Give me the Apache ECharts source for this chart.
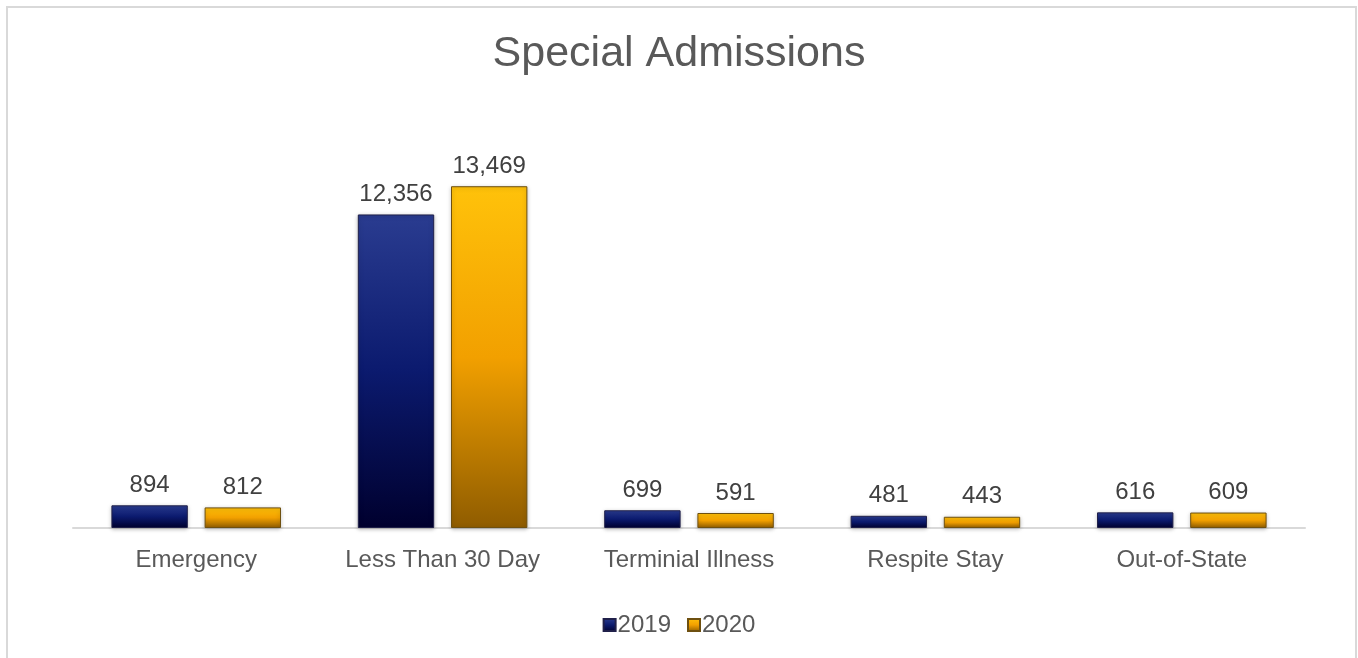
<!DOCTYPE html>
<html><head><meta charset="utf-8">
<script src="https://cdn.jsdelivr.net/npm/echarts@6/dist/echarts.min.js"></script>
<style>html,body{margin:0;padding:0;background:#fff}#c{width:1358px;height:658px}</style>
</head><body><div id="c"></div>
<script>
const categories = ['Emergency', 'Less Than 30 Day', 'Terminial Illness', 'Respite Stay', 'Out-of-State'];
const values2019 = [894, 12356, 699, 481, 616];
const values2020 = [812, 13469, 591, 443, 609];
const seriesNames = ['2019', '2020'];

const FONT = '"Liberation Sans", Arial, sans-serif';
const chart = echarts.init(document.getElementById('c'));
const grad = (c0, c1, c2) => new echarts.graphic.LinearGradient(0, 0, 0, 1, [
  {offset: 0, color: c0}, {offset: 0.5, color: c1}, {offset: 1, color: c2}]);
const labelStyle = {show: true, position: 'top', distance: 8, color: '#404040', fontSize: 24, fontFamily: FONT,
  formatter: p => p.value.toLocaleString('en-US')};
chart.setOption({
  animation: false,
  title: {text: 'Special Admissions', left: 'center', top: 28,
    textStyle: {fontSize: 43, fontWeight: 'normal', color: '#595959', fontFamily: FONT}},
  graphic: [{type: 'rect', shape: {x: 7, y: 7, width: 1349, height: 680},
    style: {fill: 'none', stroke: '#d9d9d9', lineWidth: 2}}],
  legend: {bottom: 16, left: 'center', itemWidth: 12, itemHeight: 12, itemGap: 16, icon: 'rect',
    textStyle: {fontSize: 24, color: '#595959', fontFamily: FONT, padding: [0, 0, 0, -3]},
    data: seriesNames},
  grid: {left: 73, right: 53, top: 122, bottom: 130},
  xAxis: {type: 'category', data: categories,
    axisLine: {lineStyle: {color: '#d9d9d9', width: 2}}, axisTick: {show: false},
    axisLabel: {interval: 0, fontSize: 24, color: '#595959', fontFamily: FONT, margin: 20}},
  yAxis: {type: 'value', min: 0, max: 16000, show: false, splitLine: {show: false}},
  series: [
    {name: seriesNames[0], type: 'bar', data: values2019, barWidth: '31%', barGap: '22%',
      itemStyle: {color: grad('#2a3c90', '#0b1a6e', '#00002e'), borderColor: '#20204a', borderWidth: 1,
        shadowColor: 'rgba(0,0,0,0.25)', shadowBlur: 4, shadowOffsetY: 1},
      label: labelStyle},
    {name: seriesNames[1], type: 'bar', data: values2020, barWidth: '31%',
      itemStyle: {color: grad('#ffc20a', '#f2a000', '#8f5c00'), borderColor: '#6e5010', borderWidth: 1,
        shadowColor: 'rgba(0,0,0,0.25)', shadowBlur: 4, shadowOffsetY: 1},
      label: labelStyle}
  ]
});
</script></body></html>
